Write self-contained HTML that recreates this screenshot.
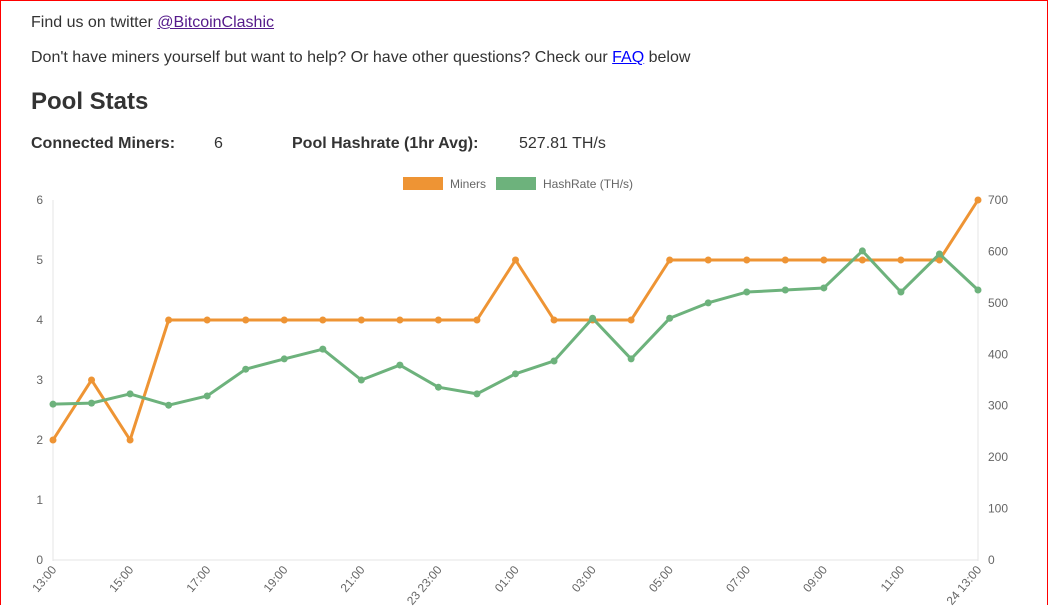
<!DOCTYPE html>
<html><head><meta charset="utf-8"><style>
html,body{margin:0;padding:0;}
body{width:1048px;height:606px;overflow:hidden;position:relative;font-family:"Liberation Sans",sans-serif;color:#333;background:#fff;}
.frame{position:absolute;left:0;top:0;width:1046px;height:604px;border:1px solid #f00;border-bottom:none;}
.t{position:absolute;left:31px;font-size:16px;white-space:nowrap;}
a{color:#00f;}
a.v{color:#551a8b;}
h2{position:absolute;left:31px;top:88px;margin:0;font-size:24px;font-weight:bold;color:#333;}
svg{position:absolute;left:0;top:0;}
</style></head><body>
<div class="frame"></div>
<div class="t" style="top:14px">Find us on twitter <a class="v" href="#">@BitcoinClashic</a></div>
<div class="t" style="top:49px">Don't have miners yourself but want to help? Or have other questions? Check our <a href="#">FAQ</a> below</div>
<h2>Pool Stats</h2>
<div class="t" style="top:135px;font-weight:bold">Connected Miners:</div>
<div class="t" style="top:135px;left:214px">6</div>
<div class="t" style="top:135px;left:292px;font-weight:bold">Pool Hashrate (1hr Avg):</div>
<div class="t" style="top:135px;left:519px">527.81 TH/s</div>
<svg id="c" width="1048" height="606"></svg>
<script>
const categories=["13:00","14:00","15:00","16:00","17:00","18:00","19:00","20:00","21:00","22:00","23 23:00","00:00","01:00","02:00","03:00","04:00","05:00","06:00","07:00","08:00","09:00","10:00","11:00","12:00","24 13:00"];
const miners=[2,3,2,4,4,4,4,4,4,4,4,4,5,4,4,4,5,5,5,5,5,5,5,5,6];
const hashrate=[303,305,323,301,319,371,391,410,350,379,336,323,362,387,470,391,470,500,521,525,529,601,521,595,525];
const leftTicks=[0,1,2,3,4,5,6];
const rightTicks=[0,100,200,300,400,500,600,700];
const NS="http://www.w3.org/2000/svg";
const svg=document.getElementById('c');
const X0=53,X1=978,Y0=560,Y1=200;
const x=i=>X0+(X1-X0)*i/(categories.length-1);
const yL=v=>Y0-(Y0-Y1)*v/6;
const yR=v=>Y0-(Y0-Y1)*v/700;
function mk(tag,attrs,txt){const e=document.createElementNS(NS,tag);for(const k in attrs)e.setAttribute(k,attrs[k]);if(txt!=null)e.textContent=txt;svg.appendChild(e);return e;}
let e;
e=mk('line',{x1:X0,y1:Y1,x2:X0,y2:Y0+1,stroke:'#e6e6e6'});


e=mk('line',{x1:X1,y1:Y1,x2:X1,y2:Y0+1,stroke:'#e6e6e6'});


e=mk('line',{x1:X0,y1:Y0,x2:X1,y2:Y0,stroke:'#e6e6e6'});


leftTicks.forEach(v=>{e=mk('text',{x:43,y:yL(v)+4,'text-anchor':'end','font-size':12,fill:'#666','font-family':'Liberation Sans'},v);

});
rightTicks.forEach(v=>{e=mk('text',{x:988,y:yR(v)+4,'font-size':12,fill:'#666','font-family':'Liberation Sans'},v);

});
categories.forEach((c,i)=>{if(i%2)return;const px=x(i),py=570;
e=mk('text',{x:px+4,y:py,'text-anchor':'end','font-size':12,fill:'#666','font-family':'Liberation Sans',transform:`rotate(-50 ${px+4} ${py})`},c);

});
function series(vals,yf,color,name){
e=mk('polyline',{points:vals.map((v,i)=>x(i)+','+yf(v)).join(' '),fill:'none',stroke:color,'stroke-width':3,'stroke-linejoin':'round'});


vals.forEach((v,i)=>{e=mk('circle',{cx:x(i),cy:yf(v),r:3.5,fill:color});

});
}
series(miners,yL,'#ee9434','miners');
series(hashrate,yR,'#6db27c','hashrate');
e=mk('rect',{x:403,y:177,width:40,height:13,fill:'#ee9434'});


e=mk('text',{x:450,y:188,'font-size':12,fill:'#666','font-family':'Liberation Sans'},'Miners');


e=mk('rect',{x:496,y:177,width:40,height:13,fill:'#6db27c'});


e=mk('text',{x:543,y:188,'font-size':12,fill:'#666','font-family':'Liberation Sans'},'HashRate (TH/s)');


</script>
</body></html>
